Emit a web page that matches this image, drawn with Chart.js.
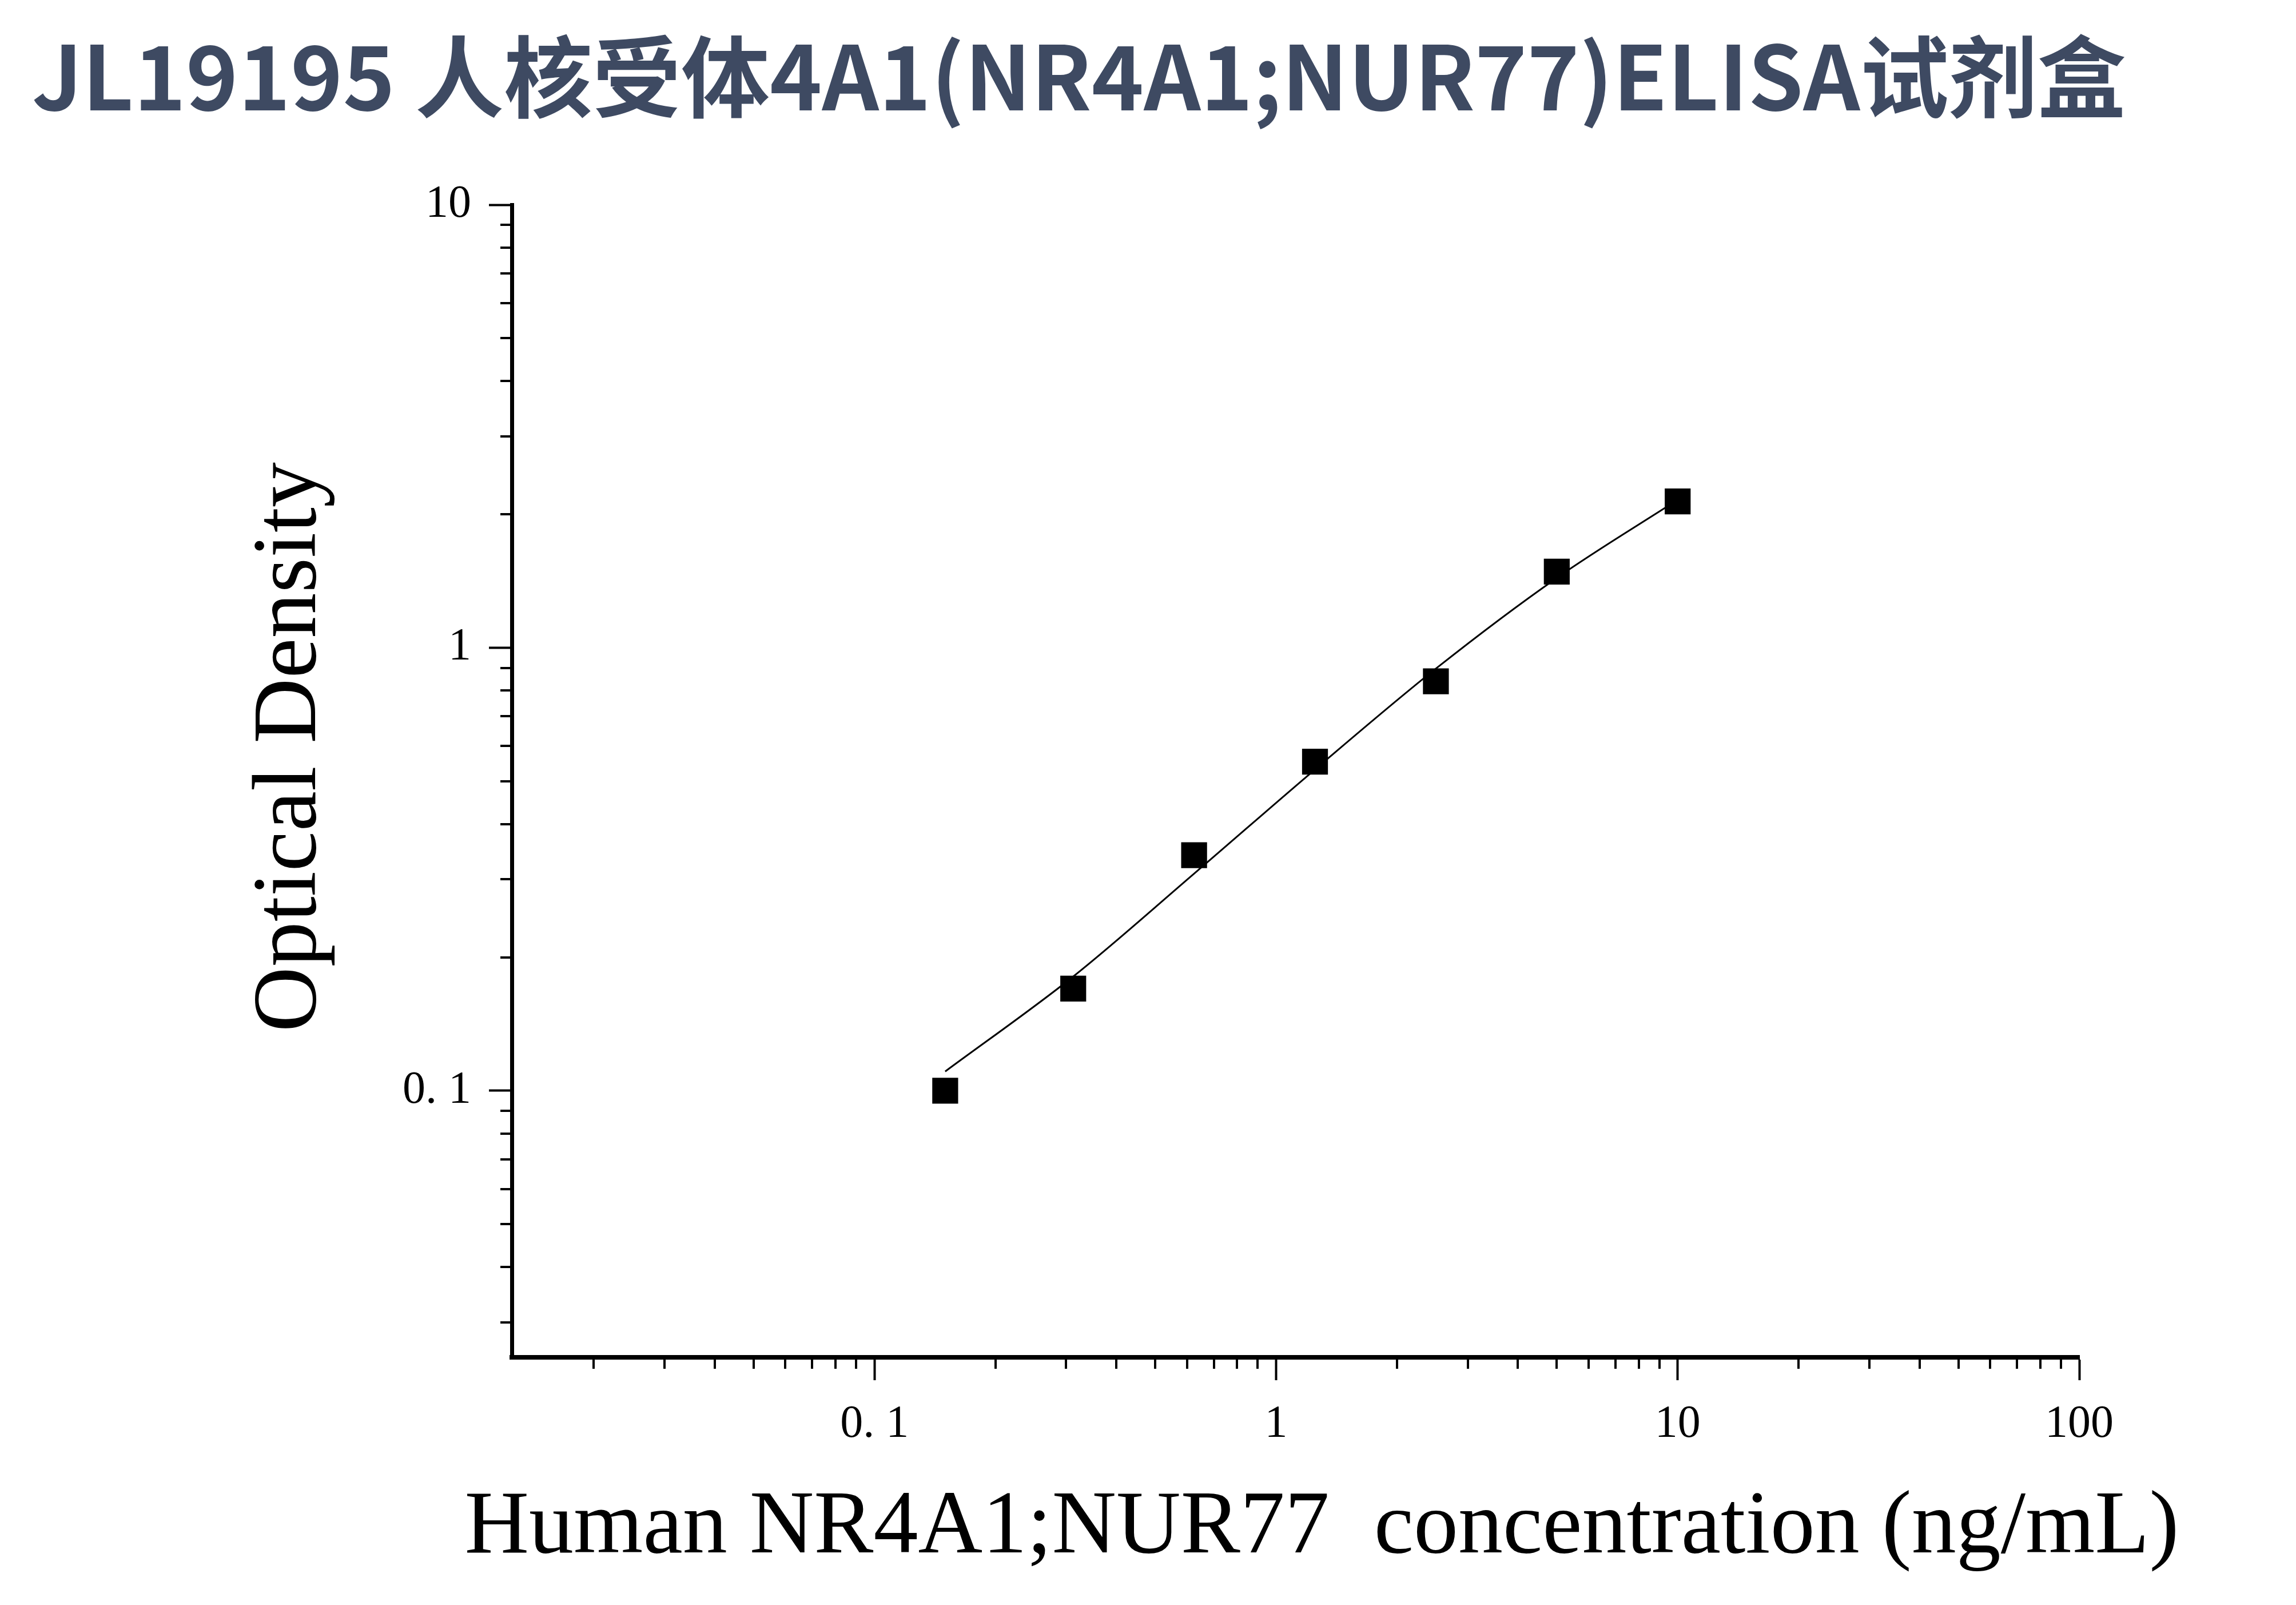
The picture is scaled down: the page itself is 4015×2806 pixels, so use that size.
<!DOCTYPE html>
<html>
<head>
<meta charset="utf-8">
<script src="https://cdn.jsdelivr.net/npm/chart.js@4.4.1/dist/chart.umd.min.js"></script>
<style>
    html, body { margin: 0; padding: 0; background: #ffffff; }
    #wrap { position: relative; width: 4015px; height: 2806px; }
    #chart { position: absolute; left: 0; top: 0; }
    #title {
        position: absolute; left: 56px; top: 48px; margin: 0;
        font: 700 155px/1 "Noto Sans CJK SC", "Noto Sans", sans-serif;
        color: #3e4a62; white-space: nowrap;
    }
</style>
</head>
<body>
<div id="wrap">
    <canvas id="chart" width="4015" height="2806"></canvas>
    <h1 id="title">JL19195 人核受体4A1(NR4A1;NUR77)ELISA试剂盒</h1>
</div>
<script>
// === Data ===
const standardConc = [0.15, 0.3125, 0.625, 1.25, 2.5, 5, 10];
const standardOD = [0.100, 0.170, 0.340, 0.553, 0.840, 1.485, 2.140];

// fitted curve
const fitConc = [0.15, 0.3125, 0.625, 1.25, 2.5, 5, 10];
const fitOD = [0.1105, 0.181, 0.309, 0.531, 0.897, 1.437, 2.157];

// axis ticks
const xMajorTicks = [0.1, 1, 10, 100];
const xTickLabels = ["0. 1", "1", "10", "100"];
const xMinorTicks = [0.02, 0.03, 0.04, 0.05, 0.06, 0.07, 0.08, 0.09,
    0.2, 0.3, 0.4, 0.5, 0.6, 0.7, 0.8, 0.9,
    2, 3, 4, 5, 6, 7, 8, 9,
    20, 30, 40, 50, 60, 70, 80, 90];
const yMajorTicks = [0.1, 1, 10];
const yTickLabels = ["0. 1", "1", "10"];
const yMinorTicks = [0.03, 0.04, 0.05, 0.06, 0.07, 0.08, 0.09,
    0.2, 0.3, 0.4, 0.5, 0.6, 0.7, 0.8, 0.9,
    2, 3, 4, 5, 6, 7, 8, 9];

const xTitle = "Human NR4A1;NUR77  concentration (ng/mL)";
const yTitle = "Optical Density";

const MINOR_TICK = 20;
const serif = "'Liberation Serif', 'Times New Roman', serif";

const buildTicks = (majors, minors) =>
    majors.map((v) => ({ value: v, major: true }))
        .concat(minors.map((v) => ({ value: v, major: false })))
        .sort((a, b) => a.value - b.value);

const tickLabel = (value, majors, labels) => {
    const i = majors.findIndex((m) => Math.abs(m - value) < 1e-9);
    return i >= 0 ? labels[i] : "";
};

// short minor ticks, drawn from the scales' own tick list
const minorTickPlugin = {
    id: "minorTicks",
    afterDraw(chart) {
        const { ctx, chartArea, scales } = chart;
        ctx.save();
        ctx.strokeStyle = "#000000";
        ctx.lineWidth = 4;
        scales.x.ticks.filter((t) => !t.major).forEach((t) => {
            const px = Math.round(scales.x.getPixelForValue(t.value));
            ctx.beginPath();
            ctx.moveTo(px, chartArea.bottom);
            ctx.lineTo(px, chartArea.bottom + MINOR_TICK);
            ctx.stroke();
        });
        scales.y.ticks.filter((t) => !t.major).forEach((t) => {
            const py = Math.round(scales.y.getPixelForValue(t.value));
            ctx.beginPath();
            ctx.moveTo(chartArea.left, py);
            ctx.lineTo(chartArea.left - MINOR_TICK, py);
            ctx.stroke();
        });
        ctx.restore();
    },
};

// the x title is wider than the plot, so draw it without Chart.js' maxWidth squeeze
const xTitlePlugin = {
    id: "xTitle",
    afterDraw(chart) {
        const { ctx, chartArea } = chart;
        ctx.save();
        ctx.fillStyle = "#000000";
        ctx.font = `156px ${serif}`;
        ctx.textAlign = "center";
        ctx.textBaseline = "alphabetic";
        ctx.fillText(xTitle, (chartArea.left + chartArea.right) / 2 + 46, chartArea.bottom + 341);
        ctx.restore();
    },
};

const majorTickColor = (c) => (c.tick && c.tick.major ? "#000000" : "rgba(0,0,0,0)");

new Chart(document.getElementById("chart").getContext("2d"), {
    type: "scatter",
    data: {
        datasets: [
            {
                label: "Standards",
                data: standardConc.map((x, i) => ({ x, y: standardOD[i] })),
                pointStyle: "rect",
                pointRadius: 32,
                pointHoverRadius: 32,
                backgroundColor: "#000000",
                borderColor: "#000000",
                borderWidth: 0,
            },
            {
                label: "Fit",
                data: fitConc.map((x, i) => ({ x, y: fitOD[i] })),
                showLine: true,
                pointRadius: 0,
                pointHoverRadius: 0,
                borderColor: "#000000",
                borderWidth: 3,
                cubicInterpolationMode: "monotone",
                fill: false,
            },
        ],
    },
    options: {
        responsive: false,
        animation: false,
        devicePixelRatio: 1,
        layout: { padding: { top: 358, right: 379, left: 0, bottom: 0 } },
        plugins: {
            legend: { display: false },
            tooltip: { enabled: false },
        },
        scales: {
            x: {
                type: "logarithmic",
                min: 0.0125,
                max: 100,
                afterBuildTicks: (axis) => { axis.ticks = buildTicks(xMajorTicks, xMinorTicks); },
                afterFit: (axis) => { axis.height = 433; },
                border: { display: true, color: "#000000", width: 8 },
                grid: {
                    display: true,
                    drawOnChartArea: false,
                    drawTicks: true,
                    tickLength: 40,
                    tickWidth: 4,
                    tickColor: majorTickColor,
                },
                ticks: {
                    autoSkip: false,
                    maxRotation: 0,
                    padding: 30,
                    color: "#000000",
                    font: { family: serif, size: 80 },
                    callback: (v) => tickLabel(v, xMajorTicks, xTickLabels),
                },
                title: { display: false },
            },
            y: {
                type: "logarithmic",
                min: 0.025,
                max: 10,
                afterBuildTicks: (axis) => { axis.ticks = buildTicks(yMajorTicks, yMinorTicks); },
                afterFit: (axis) => { axis.width = 895; },
                border: { display: true, color: "#000000", width: 7 },
                grid: {
                    display: true,
                    drawOnChartArea: false,
                    drawTicks: true,
                    tickLength: 40,
                    tickWidth: 4,
                    tickColor: majorTickColor,
                },
                ticks: {
                    autoSkip: false,
                    padding: 31,
                    color: "#000000",
                    font: { family: serif, size: 80 },
                    callback: (v) => tickLabel(v, yMajorTicks, yTickLabels),
                },
                title: {
                    display: true,
                    // leading spaces nudge the centred title upward, as in the original
                    text: "   " + yTitle,
                    color: "#000000",
                    font: { family: serif, size: 158 },
                    padding: { top: 415, bottom: 0 },
                },
            },
        },
    },
    plugins: [minorTickPlugin, xTitlePlugin],
});
</script>
</body>
</html>
